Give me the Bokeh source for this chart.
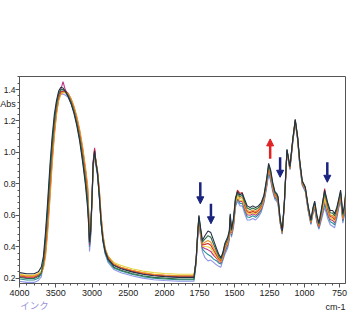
from bokeh.plotting import figure
from bokeh.models import Range1d, FixedTicker, CustomJSTickFormatter, Label, Arrow, NormalHead
from bokeh.embed import file_html
from bokeh.resources import INLINE

# ---- data (wavenumber grid, cm-1) ----
WN = [4000, 3900, 3800, 3740,
      3700, 3670, 3640, 3610, 3580, 3550, 3520, 3490, 3460, 3430, 3400, 3370, 3330, 3290, 3250, 3210, 3170, 3130, 3090, 3060,
      3045, 3035, 3020, 3000, 2985, 2965, 2945, 2925, 2900, 2875, 2850, 2820, 2780,
      2700, 2600, 2450, 2300, 2150, 2000, 1900, 1790,
      1775, 1765, 1755, 1743, 1730, 1712, 1690, 1670, 1650, 1630, 1612, 1598, 1585, 1570, 1550, 1538, 1531, 1523, 1508, 1494,
      1480, 1462, 1445, 1428, 1410, 1390, 1370, 1350, 1330, 1310, 1290, 1270, 1257, 1243, 1228, 1212, 1200, 1190, 1175, 1160,
      1145, 1126, 1105, 1085, 1067, 1050, 1035, 1017, 995, 975, 955, 940, 928, 912, 898, 880, 857, 835, 817, 800,
      786, 770, 755, 743, 727, 716, 707]

S0 = [0.235, 0.228, 0.228, 0.24,
      0.27, 0.34, 0.50, 0.70, 0.92, 1.10, 1.24, 1.33, 1.39, 1.415, 1.41, 1.39, 1.355, 1.31, 1.25, 1.17, 1.07, 0.94, 0.79, 0.64,
      0.52, 0.43, 0.50, 0.72, 0.93, 1.01, 0.93, 0.87, 0.72, 0.55, 0.44, 0.37, 0.32,
      0.28, 0.26, 0.24, 0.225, 0.215, 0.21, 0.205, 0.205,
      0.32, 0.47, 0.60, 0.52, 0.44, 0.47, 0.50, 0.49, 0.44, 0.39, 0.35, 0.33, 0.36, 0.42, 0.46, 0.50, 0.61, 0.51, 0.58, 0.71,
      0.75, 0.73, 0.74, 0.70, 0.66, 0.65, 0.66, 0.65, 0.66, 0.68, 0.73, 0.84, 0.93, 0.89, 0.81, 0.75, 0.74, 0.72, 0.58, 0.50,
      0.68, 1.02, 0.91, 1.08, 1.21, 1.10, 0.95, 0.82, 0.78, 0.66, 0.57, 0.65, 0.69, 0.60, 0.55, 0.64, 0.76, 0.68, 0.63, 0.63,
      0.61, 0.65, 0.71, 0.76, 0.61, 0.66, 0.74]

S1 = [0.205, 0.198, 0.198, 0.21,
      0.233, 0.302, 0.447, 0.633, 0.847, 1.04, 1.193, 1.30, 1.37, 1.40, 1.40, 1.39, 1.364, 1.321, 1.265, 1.19, 1.095, 0.973, 0.828, 0.69,
      0.55, 0.42, 0.49, 0.71, 0.92, 1.00, 0.93, 0.87, 0.73, 0.56, 0.45, 0.375, 0.325,
      0.27, 0.25, 0.23, 0.215, 0.205, 0.20, 0.195, 0.195,
      0.315, 0.465, 0.594, 0.51, 0.429, 0.449, 0.47, 0.46, 0.416, 0.374, 0.339, 0.322, 0.352, 0.409, 0.449, 0.49, 0.602, 0.502, 0.57, 0.70,
      0.74, 0.719, 0.727, 0.686, 0.646, 0.637, 0.647, 0.637, 0.649, 0.67, 0.722, 0.83, 0.919, 0.879, 0.80, 0.742, 0.732, 0.712, 0.575, 0.497,
      0.677, 1.017, 0.907, 1.077, 1.207, 1.097, 0.945, 0.815, 0.775, 0.655, 0.565, 0.644, 0.682, 0.592, 0.544, 0.629, 0.742, 0.664, 0.616, 0.614,
      0.596, 0.639, 0.70, 0.75, 0.60, 0.65, 0.732]

S2 = [0.22, 0.213, 0.213, 0.225,
      0.233, 0.263, 0.34, 0.50, 0.70, 0.92, 1.10, 1.24, 1.33, 1.37, 1.38, 1.38, 1.375, 1.344, 1.295, 1.23, 1.145, 1.038, 0.903, 0.79,
      0.62, 0.45, 0.50, 0.70, 0.90, 0.99, 0.94, 0.89, 0.77, 0.60, 0.48, 0.39, 0.34,
      0.29, 0.27, 0.25, 0.235, 0.225, 0.22, 0.215, 0.215,
      0.31, 0.46, 0.587, 0.501, 0.418, 0.428, 0.439, 0.429, 0.392, 0.358, 0.328, 0.314, 0.344, 0.398, 0.438, 0.481, 0.594, 0.494, 0.561, 0.691,
      0.731, 0.708, 0.714, 0.671, 0.631, 0.624, 0.634, 0.624, 0.638, 0.661, 0.714, 0.821, 0.908, 0.868, 0.791, 0.734, 0.724, 0.704, 0.57, 0.494,
      0.674, 1.014, 0.904, 1.074, 1.204, 1.094, 0.94, 0.81, 0.77, 0.65, 0.56, 0.637, 0.674, 0.584, 0.537, 0.618, 0.725, 0.648, 0.601, 0.598,
      0.581, 0.628, 0.691, 0.741, 0.591, 0.641, 0.724]

S3 = [0.215, 0.208, 0.208, 0.22,
      0.231, 0.272, 0.367, 0.533, 0.737, 0.95, 1.123, 1.255, 1.34, 1.385, 1.39, 1.39, 1.377, 1.338, 1.288, 1.22, 1.133, 1.021, 0.884, 0.765,
      0.60, 0.44, 0.50, 0.71, 0.93, 1.02, 0.94, 0.88, 0.76, 0.59, 0.47, 0.385, 0.335,
      0.29, 0.268, 0.248, 0.232, 0.222, 0.217, 0.213, 0.213,
      0.307, 0.457, 0.583, 0.495, 0.411, 0.415, 0.42, 0.41, 0.377, 0.348, 0.321, 0.309, 0.339, 0.391, 0.431, 0.475, 0.589, 0.489, 0.555, 0.685,
      0.76, 0.74, 0.745, 0.662, 0.622, 0.616, 0.626, 0.616, 0.631, 0.655, 0.709, 0.815, 0.901, 0.861, 0.785, 0.729, 0.719, 0.699, 0.567, 0.492,
      0.672, 1.012, 0.902, 1.072, 1.202, 1.092, 0.937, 0.807, 0.767, 0.647, 0.557, 0.633, 0.669, 0.579, 0.533, 0.611, 0.77, 0.638, 0.592, 0.588,
      0.572, 0.621, 0.685, 0.735, 0.585, 0.635, 0.719]

S4 = [0.225, 0.218, 0.218, 0.23,
      0.245, 0.288, 0.393, 0.567, 0.773, 0.98, 1.147, 1.27, 1.35, 1.38, 1.385, 1.385, 1.372, 1.333, 1.28, 1.21, 1.12, 1.005, 0.865, 0.74,
      0.58, 0.44, 0.50, 0.70, 0.91, 0.99, 0.94, 0.88, 0.75, 0.58, 0.47, 0.385, 0.34,
      0.30, 0.28, 0.26, 0.245, 0.235, 0.23, 0.225, 0.225,
      0.304, 0.454, 0.579, 0.488, 0.403, 0.401, 0.40, 0.39, 0.36, 0.337, 0.313, 0.303, 0.333, 0.383, 0.423, 0.468, 0.583, 0.483, 0.548, 0.678,
      0.718, 0.693, 0.698, 0.652, 0.612, 0.608, 0.618, 0.608, 0.623, 0.648, 0.703, 0.808, 0.893, 0.853, 0.778, 0.723, 0.713, 0.693, 0.564, 0.489,
      0.669, 1.009, 0.899, 1.069, 1.199, 1.089, 0.934, 0.804, 0.764, 0.644, 0.554, 0.629, 0.663, 0.573, 0.529, 0.603, 0.702, 0.627, 0.582, 0.577,
      0.562, 0.613, 0.678, 0.728, 0.578, 0.628, 0.713]

S5 = [0.21, 0.203, 0.203, 0.215,
      0.234, 0.293, 0.42, 0.60, 0.81, 1.01, 1.17, 1.285, 1.36, 1.40, 1.45, 1.40, 1.368, 1.327, 1.273, 1.20, 1.108, 0.989, 0.846, 0.715,
      0.57, 0.41, 0.48, 0.71, 0.94, 1.03, 0.93, 0.87, 0.74, 0.57, 0.46, 0.375, 0.325,
      0.285, 0.263, 0.243, 0.228, 0.218, 0.212, 0.208, 0.207,
      0.301, 0.451, 0.575, 0.482, 0.396, 0.388, 0.38, 0.37, 0.345, 0.327, 0.306, 0.298, 0.328, 0.376, 0.416, 0.462, 0.578, 0.478, 0.542, 0.672,
      0.712, 0.686, 0.69, 0.643, 0.603, 0.60, 0.61, 0.60, 0.616, 0.642, 0.698, 0.802, 0.886, 0.846, 0.772, 0.718, 0.708, 0.688, 0.561, 0.487,
      0.667, 1.007, 0.897, 1.067, 1.197, 1.087, 0.931, 0.801, 0.761, 0.641, 0.551, 0.625, 0.658, 0.568, 0.525, 0.596, 0.691, 0.617, 0.573, 0.567,
      0.553, 0.606, 0.672, 0.722, 0.572, 0.622, 0.708]

S6 = [0.195, 0.188, 0.188, 0.20,
      0.226, 0.308, 0.473, 0.667, 0.883, 1.07, 1.217, 1.315, 1.38, 1.39, 1.39, 1.385, 1.359, 1.316, 1.258, 1.18, 1.083, 0.956, 0.809, 0.665,
      0.54, 0.40, 0.47, 0.70, 0.91, 0.99, 0.92, 0.86, 0.72, 0.55, 0.44, 0.36, 0.31,
      0.265, 0.245, 0.225, 0.21, 0.20, 0.195, 0.19, 0.19,
      0.296, 0.446, 0.568, 0.473, 0.385, 0.367, 0.35, 0.34, 0.321, 0.311, 0.295, 0.29, 0.32, 0.365, 0.405, 0.453, 0.57, 0.47, 0.533, 0.663,
      0.703, 0.675, 0.677, 0.629, 0.589, 0.587, 0.597, 0.587, 0.605, 0.633, 0.69, 0.793, 0.875, 0.835, 0.763, 0.71, 0.70, 0.68, 0.556, 0.484,
      0.664, 1.004, 0.894, 1.064, 1.194, 1.084, 0.926, 0.796, 0.756, 0.636, 0.546, 0.618, 0.65, 0.56, 0.518, 0.585, 0.673, 0.601, 0.559, 0.551,
      0.539, 0.595, 0.663, 0.713, 0.563, 0.613, 0.70]

S7 = [0.18, 0.173, 0.173, 0.185,
      0.208, 0.29, 0.447, 0.633, 0.847, 1.04, 1.19, 1.29, 1.35, 1.37, 1.37, 1.365, 1.35, 1.315, 1.262, 1.19, 1.095, 0.973, 0.828, 0.69,
      0.55, 0.37, 0.45, 0.68, 0.90, 0.98, 0.91, 0.85, 0.72, 0.55, 0.43, 0.355, 0.30,
      0.255, 0.235, 0.215, 0.20, 0.19, 0.185, 0.18, 0.18,
      0.29, 0.44, 0.56, 0.46, 0.37, 0.33, 0.31, 0.315, 0.30, 0.285, 0.275, 0.27, 0.31, 0.35, 0.39, 0.44, 0.56, 0.46, 0.52, 0.65,
      0.69, 0.66, 0.66, 0.61, 0.57, 0.57, 0.58, 0.57, 0.59, 0.62, 0.68, 0.78, 0.86, 0.82, 0.75, 0.70, 0.69, 0.67, 0.55, 0.48,
      0.66, 1.00, 0.89, 1.06, 1.19, 1.08, 0.92, 0.79, 0.75, 0.63, 0.54, 0.61, 0.64, 0.55, 0.51, 0.57, 0.65, 0.58, 0.54, 0.53,
      0.52, 0.58, 0.65, 0.70, 0.55, 0.60, 0.69]

SERIES = [S7, S6, S5, S4, S3, S2, S1, S0]          # drawn bottom first, darkest last
COLORS = ["#8e95e6", "#2a8f95", "#c2328a", "#e6d43a", "#d32f2f", "#e8922a", "#2e7045", "#263045"]

X_TICKS = [4000, 3500, 3000, 2500, 2000, 1750, 1500, 1250, 1000, 750]
X_MINOR_HI = list(range(4000, 2000, -100))
X_MINOR_LO = list(range(2000, 700, -50))
Y_TICKS = [0.2, 0.4, 0.6, 0.8, 1.0, 1.2, 1.4]
Y_MINOR = [round(0.16 + 0.04 * i, 2) for i in range(34)]

# arrows: (wavenumber, y_start, y_end, colour)
ARROWS = [(1745, 0.81, 0.673, "#1a237e"),
          (1669, 0.673, 0.546, "#1a237e"),
          (1246, 0.959, 1.086, "#e02424"),
          (1175, 0.969, 0.842, "#1a237e"),
          (838, 0.938, 0.81, "#1a237e")]

for s in SERIES:
    assert len(s) == len(WN), len(s)

# ---- x scale with expansion below 2000 cm-1 ----
BREAK = 2000
EXPAND = 1.93
X_LEFT, X_RIGHT = 4000, 708


def xu(w):
    return (X_LEFT - w) if w >= BREAK else (X_LEFT - BREAK) + EXPAND * (BREAK - w)


p = figure(width=349, height=312, output_backend="svg", toolbar_location=None,
           x_range=Range1d(xu(X_LEFT), xu(X_RIGHT)), y_range=Range1d(0.166, 1.483),
           min_border_left=18, min_border_right=4, min_border_top=76, min_border_bottom=29)
p.background_fill_color = "white"
p.border_fill_color = "white"
p.xgrid.visible = False
p.ygrid.visible = False
p.outline_line_color = "#555555"
p.outline_line_width = 1

xs = [xu(w) for w in WN]
for s, c in zip(SERIES, COLORS):
    p.line(xs, s, line_color=c, line_width=1.1)

xtick_u = [xu(w) for w in X_TICKS]
p.xaxis.ticker = FixedTicker(ticks=xtick_u, minor_ticks=[xu(w) for w in X_MINOR_HI + X_MINOR_LO])
p.xaxis.formatter = CustomJSTickFormatter(args=dict(us=xtick_u, labels=[str(t) for t in X_TICKS]), code="""
let b = 0, d = 1e12;
for (let i = 0; i < us.length; i++) { const e = Math.abs(us[i] - tick); if (e < d) { d = e; b = i; } }
return labels[b];
""")
p.yaxis.ticker = FixedTicker(ticks=Y_TICKS, minor_ticks=Y_MINOR)
p.yaxis.formatter = CustomJSTickFormatter(code="return tick.toFixed(1);")

for ax in (p.xaxis[0], p.yaxis[0]):
    ax.axis_line_color = "#555555"
    ax.major_tick_line_color = "#555555"
    ax.minor_tick_line_color = "#555555"
    ax.major_tick_out = 4
    ax.major_tick_in = 0
    ax.minor_tick_out = 2
    ax.minor_tick_in = 0
    ax.major_label_text_font = "Liberation Sans"
    ax.major_label_text_color = "#222222"
p.xaxis.major_label_text_font_size = "9px"
p.yaxis.major_label_text_font_size = "8.5px"
p.yaxis.major_label_standoff = 0
p.xaxis.major_label_standoff = 2

FONT = "Liberation Sans"
# margin texts go in the (roomy) top panel so they are not clipped to the frame;
# their positions still use the data scales
p.add_layout(Label(x=xu(X_LEFT) - 265, y=1.31, text="Abs", text_font=FONT, text_font_size="9px",
                   text_color="#222222", text_baseline="middle", text_align="left"), "above")
p.add_layout(Label(x=xu(X_RIGHT), y=0.0137, text="cm-1", text_font=FONT, text_font_size="9px",
                   text_color="#222222", text_baseline="middle", text_align="right"), "above")
p.add_layout(Label(x=xu(X_LEFT) + 10, y=0.03, text="インク", text_font="Noto Sans CJK JP", text_font_size="9.5px",
                   text_color="#9a90d8", text_baseline="middle", text_align="left"), "above")

for w, y0, y1, c in ARROWS:
    p.add_layout(Arrow(end=NormalHead(size=7, fill_color=c, line_color=c),
                       x_start=xu(w), y_start=y0, x_end=xu(w), y_end=y1,
                       line_color=c, line_width=2.5))

open("out.html", "w").write(file_html(p, INLINE))
